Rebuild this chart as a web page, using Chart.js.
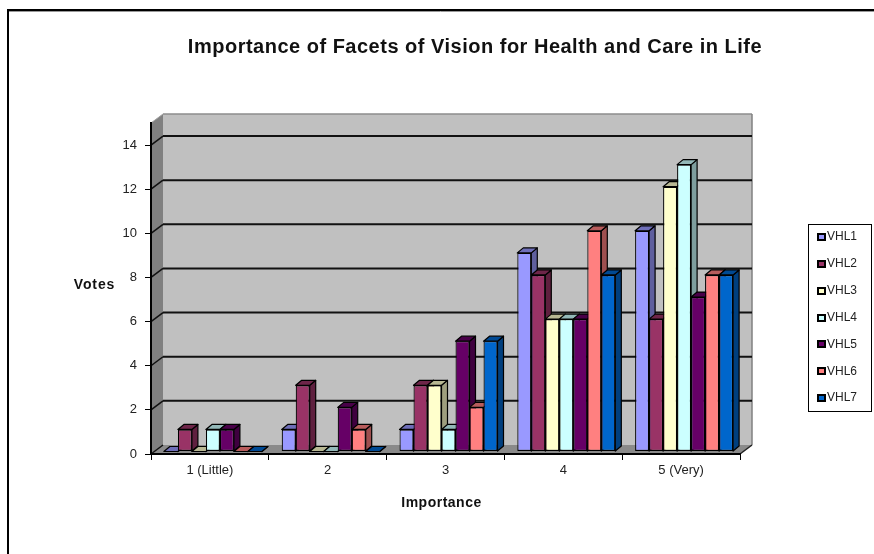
<!DOCTYPE html>
<html>
<head>
<meta charset="utf-8">
<title>Importance of Facets of Vision</title>
<script src="https://cdn.jsdelivr.net/npm/chart.js@4"></script>
<style>
html, body { margin: 0; padding: 0; background: #fff; }
#wrap { width: 874px; height: 554px; }
</style>
</head>
<body>
<div id="wrap"><canvas id="chart" width="874" height="554"></canvas></div>
<script>
const categories = ['1 (Little)', '2', '3', '4', '5 (Very)'];
const seriesNames = ['VHL1', 'VHL2', 'VHL3', 'VHL4', 'VHL5', 'VHL6', 'VHL7'];
const vhl1 = [0, 1, 1, 9, 10];
const vhl2 = [1, 3, 3, 8, 6];
const vhl3 = [0, 0, 3, 6, 12];
const vhl4 = [1, 0, 1, 6, 13];
const vhl5 = [1, 2, 5, 6, 7];
const vhl6 = [0, 1, 2, 10, 8];
const vhl7 = [0, 0, 5, 8, 8];
const yTicks = [0, 2, 4, 6, 8, 10, 12, 14];
const colors = ['#9999FF', '#993366', '#FFFFCC', '#CCFFFF', '#660066', '#FF8080', '#0066CC'];

const allSeries = [vhl1, vhl2, vhl3, vhl4, vhl5, vhl6, vhl7];
const fontName = '"Liberation Sans", Arial, sans-serif';

// 3d look: wall depth, and how far the bars sit inside it
const wallDx = 12, wallDy = -9;
const barDx = 6, barDy = -5;
const shiftX = 3, shiftY = -2.5;

function shade(hex, f) {
    const n = parseInt(hex.slice(1), 16);
    const r = Math.round((n >> 16) * f);
    const g = Math.round(((n >> 8) & 255) * f);
    const b = Math.round((n & 255) * f);
    return `rgb(${r},${g},${b})`;
}

function poly(ctx, pts, fill, stroke, width) {
    ctx.beginPath();
    pts.forEach((p, i) => i ? ctx.lineTo(p[0], p[1]) : ctx.moveTo(p[0], p[1]));
    ctx.closePath();
    if (fill) { ctx.fillStyle = fill; ctx.fill(); }
    if (stroke) { ctx.strokeStyle = stroke; ctx.lineWidth = width; ctx.stroke(); }
}

function line(ctx, x1, y1, x2, y2, color, width) {
    ctx.beginPath();
    ctx.moveTo(x1, y1);
    ctx.lineTo(x2, y2);
    ctx.strokeStyle = color;
    ctx.lineWidth = width;
    ctx.stroke();
}

function label(ctx, text, x, y, font, spacing) {
    ctx.font = font;
    ctx.letterSpacing = spacing;
    ctx.fillStyle = '#111';
    ctx.textAlign = 'center';
    ctx.textBaseline = 'middle';
    ctx.fillText(text, x, y);
    ctx.letterSpacing = '0px';
}

const depthPlugin = {
    id: 'depth',
    beforeDraw(chart) {
        const { ctx, chartArea: a, scales } = chart;
        ctx.save();
        // outer frame
        line(ctx, 7, 11.5, 874, 11.5, '#999', 1);
        line(ctx, 7, 10, 874, 10, '#000', 2);
        line(ctx, 8, 10, 8, 554, '#000', 2);

        // walls and floor
        poly(ctx, [[a.left, a.top], [a.left + wallDx, a.top + wallDy], [a.left + wallDx, a.bottom + wallDy], [a.left, a.bottom]], '#808080');
        poly(ctx, [[a.left, a.bottom], [a.left + wallDx, a.bottom + wallDy], [a.right + wallDx, a.bottom + wallDy], [a.right, a.bottom]], '#8a8a8a');
        ctx.fillStyle = '#C0C0C0';
        ctx.fillRect(a.left + wallDx, a.top + wallDy, a.right - a.left, a.bottom - a.top);
        line(ctx, a.left + wallDx, a.top + wallDy, a.right + wallDx, a.top + wallDy, '#8c8c8c', 1.5);
        line(ctx, a.right + wallDx, a.top + wallDy, a.right + wallDx, a.bottom + wallDy, '#808080', 1.5);
        line(ctx, a.left, a.top, a.left + wallDx, a.top + wallDy, '#a0a0a0', 1);

        // grid lines run along the side wall and then the back wall
        yTicks.forEach(v => {
            const y = scales.y.getPixelForValue(v);
            line(ctx, a.left, y, a.left + wallDx, y + wallDy, '#111', 1.5);
            if (v > 0) line(ctx, a.left + wallDx, y + wallDy, a.right + wallDx, y + wallDy, '#111', 2);
        });
        line(ctx, a.right, a.bottom, a.right + wallDx, a.bottom + wallDy, '#222', 1.5);
        ctx.restore();
    },
    beforeDatasetsDraw(chart) {
        const { ctx } = chart;
        ctx.save();
        ctx.translate(shiftX, shiftY);
        ctx.lineJoin = 'round';
        // depth faces left to right, the front faces are painted on top later
        allSeries.forEach((vals, d) => {
            chart.getDatasetMeta(d).data.forEach(bar => {
                const p = bar.getProps(['x', 'y', 'base', 'width']);
                const l = p.x - p.width / 2, r = p.x + p.width / 2;
                poly(ctx, [[r, p.y], [r + barDx, p.y + barDy], [r + barDx, p.base + barDy], [r, p.base]], shade(colors[d], 0.62), '#000', 1.2);
                poly(ctx, [[l, p.y], [l + barDx, p.y + barDy], [r + barDx, p.y + barDy], [r, p.y]], shade(colors[d], 0.72), '#000', 1.2);
            });
        });
        ctx.restore();
    },
    beforeDatasetDraw(chart) {
        chart.ctx.save();
        chart.ctx.translate(shiftX, shiftY);
    },
    afterDatasetDraw(chart) {
        chart.ctx.restore();
    },
    afterDraw(chart) {
        const { ctx } = chart;
        ctx.save();
        label(ctx, 'Importance of Facets of Vision for Health and Care in Life', 475, 47, 'bold 20px ' + fontName, '0.5px');
        label(ctx, 'Votes', 94.5, 285, 'bold 14px ' + fontName, '0.9px');
        label(ctx, 'Importance', 441.5, 503.5, 'bold 14px ' + fontName, '0.5px');

        // legend box
        ctx.fillStyle = '#fff';
        ctx.fillRect(808, 224, 64, 188);
        ctx.strokeStyle = '#000';
        ctx.lineWidth = 1;
        ctx.strokeRect(808.5, 224.5, 63, 187);
        seriesNames.forEach((name, i) => {
            const y = 237 + i * 26.85;
            ctx.fillStyle = '#000';
            ctx.fillRect(817, Math.round(y) - 4, 9, 8);
            ctx.fillStyle = colors[i];
            ctx.fillRect(819, Math.round(y) - 2, 5, 4);
            ctx.font = '12px ' + fontName;
            ctx.fillStyle = '#222';
            ctx.textAlign = 'left';
            ctx.textBaseline = 'middle';
            ctx.fillText(name, 827, y);
        });
        ctx.restore();
    }
};

new Chart(document.getElementById('chart'), {
    type: 'bar',
    data: {
        labels: categories,
        datasets: seriesNames.map((name, i) => ({
            label: name,
            data: allSeries[i],
            backgroundColor: colors[i],
            borderColor: '#000',
            borderWidth: 1.2,
            borderSkipped: false,
            clip: false
        }))
    },
    options: {
        responsive: false,
        animation: false,
        events: [],
        layout: { padding: { left: 101, right: 134, top: 123, bottom: 70 } },
        datasets: { bar: { barPercentage: 1, categoryPercentage: 0.832 } },
        plugins: { legend: { display: false }, title: { display: false }, tooltip: { enabled: false } },
        scales: {
            x: {
                afterFit: s => { s.height = 30; },
                grid: { drawOnChartArea: false, color: '#000', lineWidth: 1, tickLength: 6 },
                border: { color: '#000', width: 2 },
                ticks: { color: '#222', padding: 3, maxRotation: 0, font: { family: fontName, size: 13 } }
            },
            y: {
                min: 0,
                max: 15,
                afterFit: s => { s.width = 50; },
                afterBuildTicks: s => { s.ticks = yTicks.map(v => ({ value: v })); },
                grid: { drawOnChartArea: false, color: '#000', lineWidth: 1, tickLength: 6 },
                border: { color: '#000', width: 2 },
                ticks: { color: '#222', padding: 8, font: { family: fontName, size: 13 } }
            }
        }
    },
    plugins: [depthPlugin]
});
</script>
</body>
</html>
